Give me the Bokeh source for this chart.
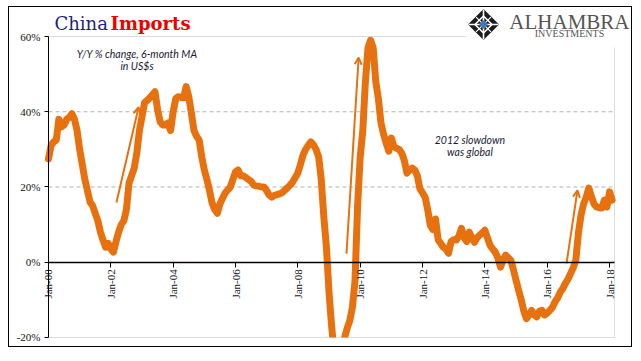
import math
import numpy as np
from bokeh.plotting import figure
from bokeh.models import (FixedTicker, PrintfTickFormatter, Label, Arrow, OpenHead,
                          BoxAnnotation, ColumnDataSource, Range1d)
from bokeh.embed import file_html
from bokeh.resources import INLINE

# ---- data: China imports, Y/Y % change, 6-month MA, monthly from Jan 2000 ----
y2000 = [27.5, 31, 32, 32.5, 38, 36, 36.5, 38, 38.5, 39.5, 38, 35]
y2001 = [30, 26, 22, 19, 16, 15, 13, 11, 8, 5.9, 4, 5]
y2002 = [3.5, 2.7, 5.5, 8, 10, 11, 14, 21, 23, 25, 29, 35]
y2003 = [38.7, 42.4, 43, 43.7, 44.5, 45.3, 40.5, 37.3, 36.5, 36.5, 37, 35]
y2004 = [40, 43.5, 44, 43.8, 43.7, 46.7, 44, 39.7, 35, 33.5, 32.5, 28]
y2005 = [24.5, 22, 19, 15.7, 14, 13, 15.5, 17, 18.4, 19.2, 20, 22]
y2006 = [24, 24.5, 23, 23, 22.5, 22, 21.5, 20.5, 20.3, 20.2, 20, 20]
y2007 = [19, 17.8, 17.3, 17.8, 18, 18.2, 18.5, 19.2, 19.8, 20.5, 21.3, 22.5]
y2008 = [23.7, 26, 28.5, 30, 31, 32, 31.2, 30, 28, 22, 12, 4]
y2009 = [-8, -17, -24, -27, -28, -24, -20, -17.5, -15.5, -12, -5, 15]
y2010 = [28, 35, 48, 57, 59, 57, 48, 43.5, 37, 34, 31.7, 29.5]
y2011 = [33, 30.7, 30.3, 30, 29, 27, 23.7, 24.5, 25, 24.5, 23, 19.5]
y2012 = [18.5, 17.3, 13.9, 9.8, 8.7, 11.5, 6, 5, 4, 3.5, 2.4, 5.5]
y2013 = [6, 5.9, 7, 9, 6.5, 5.5, 8, 6.5, 5.3, 6.5, 7.2, 7.8]
y2014 = [8.5, 6.5, 4.5, 3.5, 2.7, 1.2, -1.3, 0.5, 1.9, 1.2, 0.5, -2]
y2015 = [-4.8, -7.5, -10, -13, -15, -14, -12.8, -14, -14.5, -13, -12.8, -14]
y2016 = [-13.5, -12.8, -12, -10.5, -9.5, -8, -7, -5.6, -4.5, -3, -1.5, 0.5]
y2017 = [7.7, 12.5, 15.5, 17.3, 19.7, 17.5, 15.5, 14.7, 14.5, 14.4, 16.5, 14.7]
y2018 = [18.7, 16.5]

values = (y2000 + y2001 + y2002 + y2003 + y2004 + y2005 + y2006 + y2007 + y2008 +
          y2009 + y2010 + y2011 + y2012 + y2013 + y2014 + y2015 + y2016 + y2017 + y2018)
months = 2000 + np.arange(len(values)) / 12.0

tick_years = [2000, 2002, 2004, 2006, 2008, 2010, 2012, 2014, 2016, 2018]
tick_labels = ["Jan-00", "Jan-02", "Jan-04", "Jan-06", "Jan-08", "Jan-10",
               "Jan-12", "Jan-14", "Jan-16", "Jan-18"]
y_ticks = [-20, 0, 20, 40, 60]
grid_values = [20, 40]

# plot-area extent (data units)
X_LO, X_HI = 2000, 2018.16
Y_LO, Y_HI = -20, 60

# arrows: (x_start, y_start, x_end, y_end)
arrow_x0 = [2002.18, 2009.56, 2016.62]
arrow_y0 = [15.9, 2.3, -0.3]
arrow_x1 = [2002.89, 2009.95, 2016.97]
arrow_y1 = [41.2, 54.4, 19.1]

# logo emblem position
LOGO_X, LOGO_Y = 2013.956, 63.19

ORANGE = "#E8710F"

p = figure(width=624, height=341, output_backend="svg", toolbar_location=None,
           title=None, x_range=Range1d(1998.749, 2018.768), y_range=Range1d(-22.924, 67.708),
           min_border_left=0, min_border_right=0, min_border_top=0, min_border_bottom=0,
           styles={"border": "1px solid black", "margin-left": "8px", "margin-top": "6px"})
p.background_fill_color = "white"
p.border_fill_color = "white"
p.outline_line_color = None
p.xgrid.visible = False
p.ygrid.visible = False

# dashed grid lines inside the plot area
p.segment(x0=[X_LO] * len(grid_values), x1=[X_HI] * len(grid_values),
          y0=grid_values, y1=grid_values, line_color="#b4b4b4", line_dash="4 3",
          line_width=1, level="underlay")

# y axis at Jan-00
p.yaxis.fixed_location = X_LO
p.yaxis.bounds = (Y_LO, Y_HI)
p.yaxis.ticker = FixedTicker(ticks=y_ticks)
p.yaxis.formatter = PrintfTickFormatter(format="%d%%")
p.yaxis.major_label_text_font = "Liberation Serif"
p.yaxis.major_label_text_font_size = "11px"
p.yaxis.major_label_text_color = "#111111"
p.yaxis.major_tick_in = 0
p.yaxis.major_tick_out = 4
p.yaxis.minor_tick_line_color = None
p.yaxis.axis_line_color = "black"
p.yaxis.major_tick_line_color = "black"
p.yaxis.major_label_standoff = 4
p.yaxis.level = "overlay"

# x axis at 0%
p.xaxis.fixed_location = 0
p.xaxis.bounds = (X_LO, X_HI)
p.xaxis.ticker = FixedTicker(ticks=tick_years)
p.xaxis.major_label_overrides = {t: l for t, l in zip(tick_years, tick_labels)}
p.xaxis.major_label_orientation = math.pi / 2
p.xaxis.major_label_text_font = "Liberation Serif"
p.xaxis.major_label_text_font_size = "11px"
p.xaxis.major_label_text_color = "#111122"
p.xaxis.major_tick_in = 0
p.xaxis.major_tick_out = 5
p.xaxis.minor_tick_line_color = None
p.xaxis.axis_line_color = "black"
p.xaxis.axis_line_width = 1.5
p.xaxis.major_tick_line_color = "black"
p.xaxis.major_label_standoff = 2
p.xaxis.level = "overlay"

src = ColumnDataSource(dict(x=months, y=values))
p.line("x", "y", source=src, line_color=ORANGE, line_width=7,
       line_join="round", line_cap="round")

for xs, ys, xe, ye in zip(arrow_x0, arrow_y0, arrow_x1, arrow_y1):
    p.add_layout(Arrow(x_start=xs, y_start=ys, x_end=xe, y_end=ye,
                       line_color=ORANGE, line_width=2,
                       end=OpenHead(size=7, line_color=ORANGE, line_width=2)))

# plot area clips the series at its bottom edge
p.add_layout(BoxAnnotation(left=X_LO, right=X_HI, top=Y_LO, bottom=None,
                           fill_color="white", fill_alpha=1.0, line_color=None))
# grey plot-area border
p.add_layout(BoxAnnotation(left=X_LO, right=X_HI, bottom=Y_LO, top=Y_HI,
                           fill_color=None, fill_alpha=0, line_color="#8c8c8c",
                           line_width=1))
# white box behind logo
p.add_layout(BoxAnnotation(left=2013.41, right=None, bottom=57.08, top=None,
                           fill_color="white", fill_alpha=1.0, line_color=None))

# logo emblem (lattice diamond)
p.scatter([LOGO_X], [LOGO_Y], marker="square", size=22, angle=math.pi / 4,
          fill_color="#1c1c1c", line_color=None, level="overlay")
p.scatter([LOGO_X], [LOGO_Y], marker="cross", size=30, line_color="white",
          line_width=1.6, level="overlay")
p.scatter([LOGO_X], [LOGO_Y], marker="square", size=12, angle=math.pi / 4,
          fill_color=None, line_color="white", line_width=1.6, level="overlay")
p.scatter([LOGO_X], [LOGO_Y], marker="x", size=21, line_color="white",
          line_width=1.2, level="overlay")
p.scatter([LOGO_X], [LOGO_Y], marker="square", size=6, angle=math.pi / 4,
          fill_color="#3b78c4", line_color=None, level="overlay")

# title
p.add_layout(Label(x=2000.1925, y=63.455, text="China", text_font="DejaVu Serif",
                   text_font_size="18px", text_color="#1e1e82",
                   text_baseline="middle", text_align="left"))
p.add_layout(Label(x=2001.99, y=63.455, text="Imports", text_font="DejaVu Serif",
                   text_font_size="18px", text_font_style="bold", text_color="#ee0000",
                   text_baseline="middle", text_align="left"))

# logo text
p.add_layout(Label(x=2018.64, y=63.86, text="ALHAMBRA", text_font="Liberation Serif",
                   text_font_size="21px", text_color="#555555",
                   text_baseline="middle", text_align="right"))
p.add_layout(Label(x=2016.715, y=60.9, text="INVESTMENTS", text_font="Liberation Serif",
                   text_font_size="10px", text_color="#555555",
                   text_baseline="middle", text_align="center"))

# annotations
note_style = dict(text_font="Lato", text_font_size="10.5px", text_font_style="italic",
                  text_color="#1a1a33", text_align="center", text_baseline="middle")
p.add_layout(Label(x=2002.84, y=55.48, text="Y/Y % change, 6-month MA", **note_style))
p.add_layout(Label(x=2002.84, y=52.03, text="in US$s", **note_style))
p.add_layout(Label(x=2013.52, y=32.62, text="2012 slowdown", **note_style))
p.add_layout(Label(x=2013.52, y=29.17, text="was global", **note_style))

open("out.html", "w").write(file_html(p, INLINE))
